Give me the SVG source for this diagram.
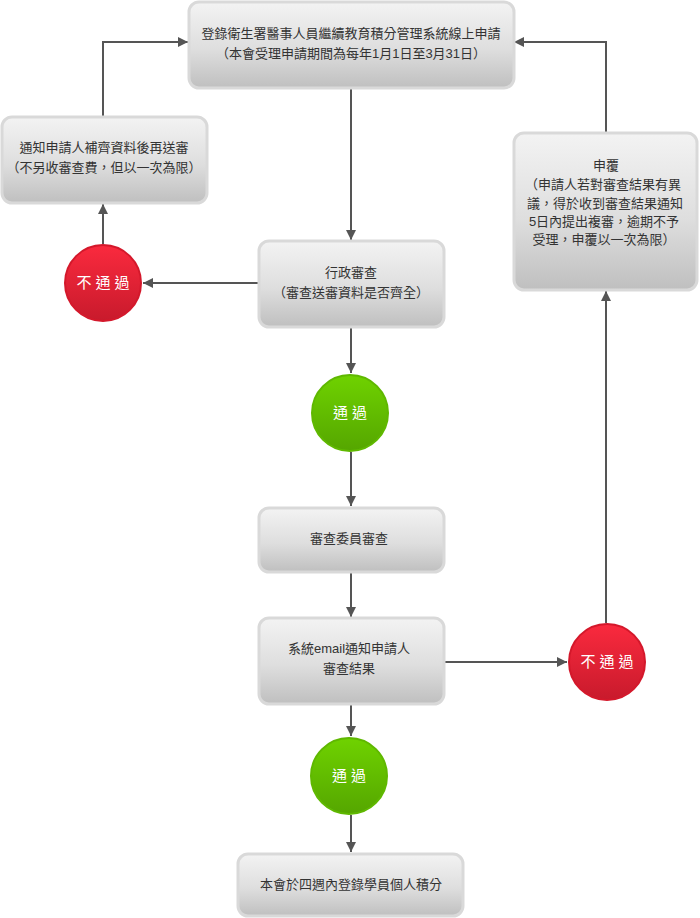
<svg xmlns="http://www.w3.org/2000/svg" width="700" height="918" viewBox="0 0 700 918">
<defs>
<linearGradient id="gBox" x1="0" y1="0" x2="0" y2="1">
<stop offset="0" stop-color="#f3f3f3"/>
<stop offset="0.55" stop-color="#dedede"/>
<stop offset="1" stop-color="#bfbfbf"/>
</linearGradient>
<linearGradient id="gRed" x1="0" y1="0" x2="0" y2="1">
<stop offset="0" stop-color="#fa2a3e"/>
<stop offset="1" stop-color="#c81a2c"/>
</linearGradient>
<linearGradient id="gGreen" x1="0" y1="0" x2="0" y2="1">
<stop offset="0" stop-color="#6fd200"/>
<stop offset="1" stop-color="#55a600"/>
</linearGradient>
<marker id="arr" viewBox="0 0 10 10" refX="10" refY="5" markerWidth="10" markerHeight="10" markerUnits="userSpaceOnUse" orient="auto">
<path d="M0,0 L10,5 L0,10 Z" fill="#555"/>
</marker>
</defs>
<style>
.box{fill:url(#gBox);stroke:#d9d9d9;stroke-width:3}
.red{fill:url(#gRed);stroke:#d4182b;stroke-width:2}
.green{fill:url(#gGreen);stroke:#5fb800;stroke-width:2}
.t{font-family:"Liberation Sans","Noto Sans CJK TC",sans-serif;font-size:13px;fill:#333;text-anchor:middle}
.c{font-family:"Liberation Sans","Noto Sans CJK TC",sans-serif;font-size:15px;fill:#fff;text-anchor:middle;letter-spacing:4px}
.ln{fill:none;stroke:#555;stroke-width:2;marker-end:url(#arr)}
</style>
<rect width="700" height="918" fill="#fff"/>
<g id="connectors">
<path class="ln" d="M351,88 V240"/>
<path class="ln" d="M351,327 V373"/>
<path class="ln" d="M351,452 V506"/>
<path class="ln" d="M351,572 V617"/>
<path class="ln" d="M351,705 V736"/>
<path class="ln" d="M351,815 V852"/>
<path class="ln" d="M258,283 H143"/>
<path class="ln" d="M103,244 V204"/>
<path class="ln" d="M103,117 V42 H188"/>
<path class="ln" d="M444,662 H567"/>
<path class="ln" d="M606,623 V291"/>
<path class="ln" d="M606,133 V42 H514"/>
</g>
<g id="n-apply">
<rect class="box" x="189" y="2" width="325" height="86" rx="10"/>
<text class="t" x="351" y="38">登錄衛生署醫事人員繼續教育積分管理系統線上申請</text>
<text class="t" x="351" y="58">（本會受理申請期間為每年1月1日至3月31日）</text>
</g>
<g id="n-supplement">
<rect class="box" x="2" y="117" width="205" height="86" rx="10"/>
<text class="t" x="104" y="152">通知申請人補齊資料後再送審</text>
<text class="t" x="104" y="172">（不另收審查費，但以一次為限）</text>
</g>
<g id="n-appeal">
<rect class="box" x="514" y="133" width="183" height="157" rx="10"/>
<text class="t" x="606" y="170">申覆</text>
<text class="t" x="603" y="189">（申請人若對審查結果有異</text>
<text class="t" x="605" y="208">議，得於收到審查結果通知</text>
<text class="t" x="604" y="226">5日內提出複審，逾期不予</text>
<text class="t" x="604" y="244">受理，申覆以一次為限）</text>
</g>
<g id="n-admin">
<rect class="box" x="259" y="241" width="185" height="86" rx="10"/>
<text class="t" x="351" y="277">行政審查</text>
<text class="t" x="351" y="297">（審查送審資料是否齊全）</text>
</g>
<g id="n-fail1">
<circle class="red" cx="103" cy="283" r="38"/>
<text class="c" x="105" y="288">不通過</text>
</g>
<g id="n-pass1">
<circle class="green" cx="350" cy="413" r="38"/>
<text class="c" x="352" y="418">通過</text>
</g>
<g id="n-committee">
<rect class="box" x="259" y="508" width="185" height="64" rx="10"/>
<text class="t" x="349" y="543">審查委員審查</text>
</g>
<g id="n-email">
<rect class="box" x="259" y="618" width="185" height="86" rx="10"/>
<text class="t" x="349" y="653">系統email通知申請人</text>
<text class="t" x="349" y="673">審查結果</text>
</g>
<g id="n-fail2">
<circle class="red" cx="607" cy="662" r="38"/>
<text class="c" x="609" y="667">不通過</text>
</g>
<g id="n-pass2">
<circle class="green" cx="349" cy="776" r="38"/>
<text class="c" x="351" y="781">通過</text>
</g>
<g id="n-final">
<rect class="box" x="238" y="854" width="225" height="62" rx="10"/>
<text class="t" x="351" y="889">本會於四週內登錄學員個人積分</text>
</g>
</svg>
